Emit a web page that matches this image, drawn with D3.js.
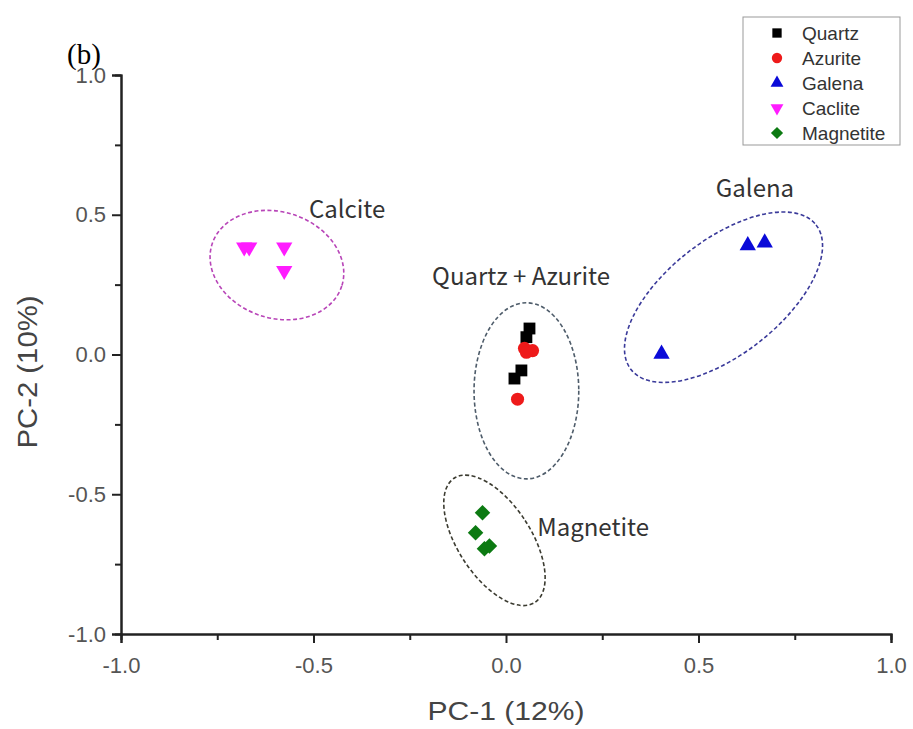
<!DOCTYPE html>
<html>
<head>
<meta charset="utf-8">
<script src="https://cdn.jsdelivr.net/npm/d3@7"></script>
<style>
  html, body { margin: 0; padding: 0; background: #fff; }
  svg { display: block; }
</style>
</head>
<body>
<svg id="chart" width="913" height="729"></svg>
<script>
// Mineral groups and their PC scores
const seriesNames = ["Quartz", "Azurite", "Galena", "Caclite", "Magnetite"];
const seriesColors = ["#000000", "#ee1a1a", "#0a0ad8", "#ff1cff", "#0c7a12"];
const seriesSymbols = ["square", "circle", "triangleUp", "triangleDown", "diamond"];

const quartzPC1 = [0.061, 0.053, 0.040, 0.022];
const quartzPC2 = [0.093, 0.062, -0.057, -0.086];
const azuritePC1 = [0.048, 0.069, 0.053, 0.030];
const azuritePC2 = [0.022, 0.014, 0.008, -0.160];
const galenaPC1 = [0.628, 0.672, 0.404];
const galenaPC2 = [0.390, 0.400, 0.002];
const calcitePC1 = [-0.680, -0.667, -0.576, -0.576];
const calcitePC2 = [0.384, 0.384, 0.384, 0.300];
const magnetitePC1 = [-0.061, -0.079, -0.056, -0.043];
const magnetitePC2 = [-0.566, -0.638, -0.695, -0.685];

const majorTicks = [-1.0, -0.5, 0.0, 0.5, 1.0];
const minorTicks = [-0.75, -0.25, 0.25, 0.75];

// Cluster annotations (label text)
const clusterLabels = ["Calcite", "Quartz + Azurite", "Galena", "Magnetite"];

const pc1 = [quartzPC1, azuritePC1, galenaPC1, calcitePC1, magnetitePC1];
const pc2 = [quartzPC2, azuritePC2, galenaPC2, calcitePC2, magnetitePC2];

const svg = d3.select("#chart");
const x = d3.scaleLinear().domain([-1, 1]).range([121, 891]);
const y = d3.scaleLinear().domain([-1, 1]).range([634, 75]);

// plain hyphen for negatives, one decimal
const fmt = v => v.toFixed(1);
const tickFont = "'Liberation Sans', Arial, sans-serif";

// Cluster ellipses, described in data units
const ellipses = [
  { cx: -0.595, cy: 0.320, rx: 0.177, ry: 0.19, rot: 18, color: "#b845b8" },
  { cx: 0.053, cy: -0.130, rx: 0.136, ry: 0.315, rot: 0, color: "#4e5c6a" },
  { cx: 0.565, cy: 0.205, rx: 0.305, ry: 0.205, rot: -38, color: "#3a3a9a" },
  { cx: -0.030, cy: -0.665, rx: 0.095, ry: 0.265, rot: -33, color: "#3b3b30" }
];
const ellG = svg.append("g");
ellipses.forEach(e => {
  const px = x(e.cx), py = y(e.cy);
  const rxp = x(e.rx) - x(0);
  const ryp = y(0) - y(e.ry);
  ellG.append("ellipse")
    .attr("cx", px).attr("cy", py)
    .attr("rx", rxp).attr("ry", ryp)
    .attr("transform", `rotate(${e.rot},${px},${py})`)
    .attr("fill", "none")
    .attr("stroke", e.color)
    .attr("stroke-width", 1.6)
    .attr("stroke-dasharray", "4,2.5");
});

// Axes
const xMajor = d3.axisBottom(x).tickValues(majorTicks).tickSize(9).tickPadding(14).tickFormat(fmt);
const xMinor = d3.axisBottom(x).tickValues(minorTicks).tickSize(6).tickFormat("");
const yMajor = d3.axisLeft(y).tickValues(majorTicks).tickSize(9).tickPadding(6).tickFormat(fmt);
const yMinor = d3.axisLeft(y).tickValues(minorTicks).tickSize(6).tickFormat("");

function styleAxis(g) {
  g.selectAll(".domain").attr("stroke", "#222").attr("stroke-width", 2);
  g.selectAll(".tick line").attr("stroke", "#222").attr("stroke-width", 2);
  g.selectAll(".tick text")
    .attr("fill", "#555")
    .style("font-family", tickFont)
    .style("font-size", "22px");
}
svg.append("g").attr("transform", `translate(0,${y(-1)})`).call(xMinor).call(styleAxis);
svg.append("g").attr("transform", `translate(0,${y(-1)})`).call(xMajor).call(styleAxis);
svg.append("g").attr("transform", `translate(${x(-1)},0)`).call(yMinor).call(styleAxis);
svg.append("g").attr("transform", `translate(${x(-1)},0)`).call(yMajor).call(styleAxis);

// Axis titles
svg.append("text")
  .attr("x", (x(-1) + x(1)) / 2)
  .attr("y", 720)
  .attr("text-anchor", "middle")
  .attr("fill", "#444")
  .attr("textLength", 157)
  .attr("lengthAdjust", "spacingAndGlyphs")
  .style("font-family", tickFont)
  .style("font-size", "26px")
  .text("PC-1 (12%)");
svg.append("text")
  .attr("transform", `translate(37,372) rotate(-90)`)
  .attr("text-anchor", "middle")
  .attr("fill", "#444")
  .attr("textLength", 153)
  .attr("lengthAdjust", "spacingAndGlyphs")
  .style("font-family", tickFont)
  .style("font-size", "27px")
  .text("PC-2 (10%)");

// Panel tag
svg.append("text")
  .attr("x", 67).attr("y", 64)
  .attr("fill", "#000")
  .style("font-family", "'Liberation Serif', 'Times New Roman', serif")
  .style("font-size", "29px")
  .text("(b)");

// Marker shapes
function symbolPath(kind, scale) {
  const s = scale || 1;
  switch (kind) {
    case "square": return { d: d3.symbol(d3.symbolSquare, 140 * s)(), rot: 0 };
    case "circle": return { d: d3.symbol(d3.symbolCircle, 135 * s)(), rot: 0 };
    case "triangleUp": return { d: d3.symbol(d3.symbolTriangle, 115 * s)(), rot: 0 };
    case "triangleDown": return { d: d3.symbol(d3.symbolTriangle, 115 * s)(), rot: 180 };
    case "diamond": return { d: d3.symbol(d3.symbolSquare, 120 * s)(), rot: 45 };
  }
}

const ptsG = svg.append("g");
seriesNames.forEach((name, i) => {
  const sym = symbolPath(seriesSymbols[i]);
  const pts = pc1[i].map((v, j) => [v, pc2[i][j]]);
  ptsG.selectAll(null)
    .data(pts)
    .enter().append("path")
    .attr("d", sym.d)
    .attr("transform", d => `translate(${x(d[0])},${y(d[1])}) rotate(${sym.rot})`)
    .attr("fill", seriesColors[i]);
});

// Cluster labels, anchored at their left edge
const labelPos = [[-0.512, 0.487], [-0.192, 0.250], [0.545, 0.562], [0.081, -0.648]];
const labG = svg.append("g");
clusterLabels.forEach((t, i) => {
  labG.append("text")
    .attr("x", x(labelPos[i][0]))
    .attr("y", y(labelPos[i][1]))
    .attr("text-anchor", "start")
    .attr("fill", "#333")
    .style("font-family", "'Noto Sans CJK KR', 'Noto Sans', sans-serif")
    .style("font-size", "24px")
    .text(t);
});

// Legend
const leg = svg.append("g").attr("transform", "translate(743,17)");
leg.append("rect")
  .attr("width", 157).attr("height", 128)
  .attr("fill", "#fff")
  .attr("stroke", "#999")
  .attr("stroke-width", 1);
seriesNames.forEach((name, i) => {
  const cy = 16 + i * 25;
  const sym = symbolPath(seriesSymbols[i], 0.62);
  leg.append("path")
    .attr("d", sym.d)
    .attr("transform", `translate(34,${cy}) rotate(${sym.rot})`)
    .attr("fill", seriesColors[i]);
  leg.append("text")
    .attr("x", 59).attr("y", cy)
    .attr("dy", "0.36em")
    .attr("fill", "#333")
    .style("font-family", tickFont)
    .style("font-size", "19px")
    .text(name);
});
</script>
</body>
</html>
